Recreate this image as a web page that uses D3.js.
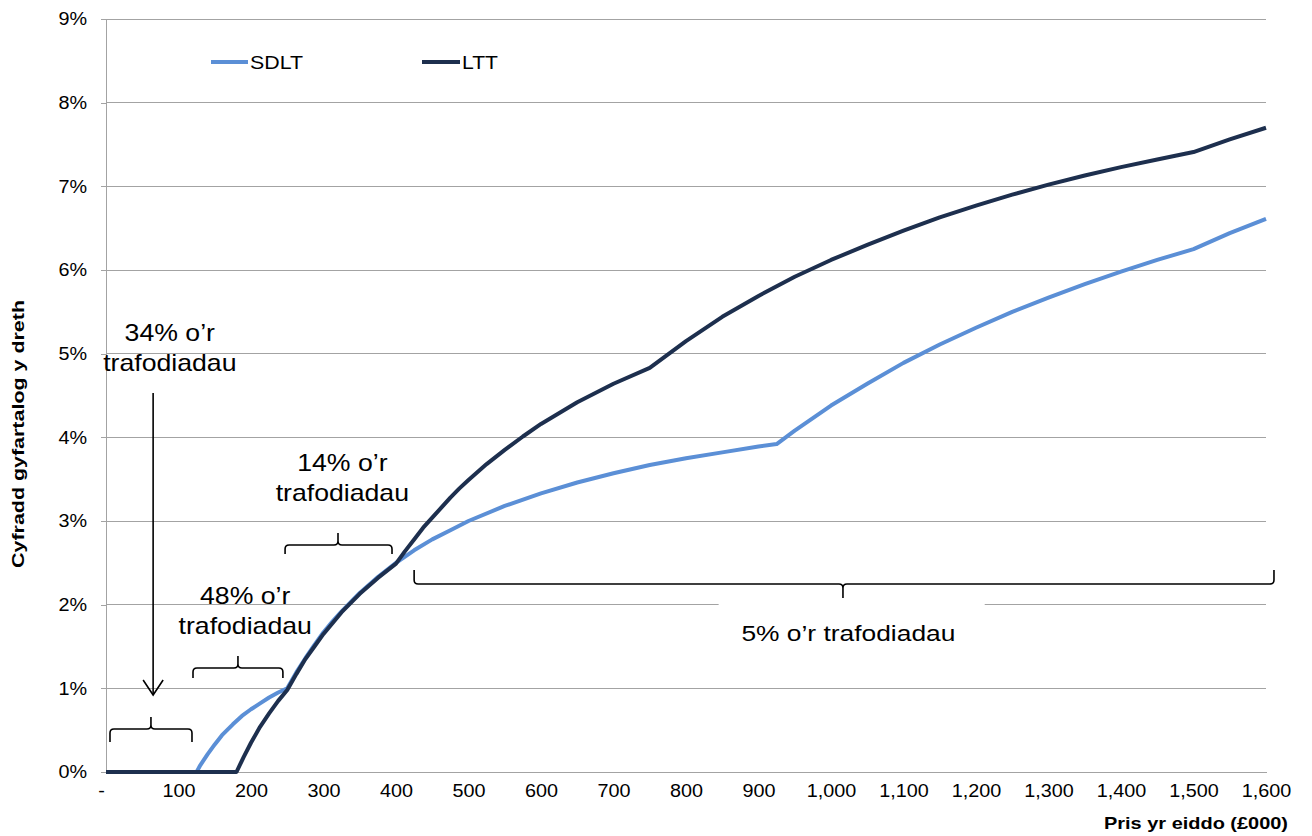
<!DOCTYPE html>
<html><head><meta charset="utf-8">
<script src="https://cdn.jsdelivr.net/npm/d3@7"></script>
<style>
html,body{margin:0;padding:0;background:#fff;}
svg{display:block;font-family:"Liberation Sans",Arial,sans-serif;}
</style></head>
<body><svg id="c" width="1312" height="836"></svg>
<script>
// ---- data ----
const seriesNames = ["SDLT", "LTT"];
const sdltPrice = [0,25,50,75,100,125,130,140,150,160,175,187.5,200,212.5,225,237.5,250,262.5,275,287.5,300,312.5,325,350,375,400,425,450,475,500,550,600,650,700,750,800,850,900,925,950,1000,1050,1100,1150,1200,1250,1300,1350,1400,1450,1500,1550,1600];
const sdltRate  = [0,0,0,0,0,0,0.08,0.21,0.33,0.44,0.57,0.67,0.75,0.82,0.89,0.95,1.00,1.19,1.36,1.52,1.67,1.80,1.92,2.14,2.33,2.50,2.65,2.78,2.89,3.00,3.18,3.33,3.46,3.57,3.67,3.75,3.82,3.89,3.92,4.08,4.38,4.64,4.89,5.11,5.31,5.50,5.67,5.83,5.98,6.12,6.25,6.44,6.61];
const lttPrice  = [0,25,50,75,100,125,150,175,180,185,190,200,212.5,225,237.5,250,262.5,275,287.5,300,325,350,375,400,412.5,425,437.5,450,462.5,475,487.5,500,525,550,575,600,650,700,750,800,850,900,950,1000,1050,1100,1150,1200,1250,1300,1350,1400,1450,1500,1550,1600];
const lttRate   = [0,0,0,0,0,0,0,0,0,0.09,0.18,0.35,0.54,0.70,0.85,0.98,1.17,1.35,1.50,1.65,1.91,2.13,2.32,2.49,2.64,2.78,2.92,3.04,3.16,3.28,3.39,3.49,3.68,3.85,4.01,4.16,4.42,4.64,4.83,5.15,5.44,5.69,5.92,6.12,6.30,6.47,6.63,6.77,6.90,7.02,7.13,7.23,7.32,7.41,7.56,7.70];
const xTicks = [0,100,200,300,400,500,600,700,800,900,1000,1100,1200,1300,1400,1500,1600];
const xTickLabels = ["-","100","200","300","400","500","600","700","800","900","1,000","1,100","1,200","1,300","1,400","1,500","1,600"];
const yTicks = [0,1,2,3,4,5,6,7,8,9];
const yTickLabels = ["0%","1%","2%","3%","4%","5%","6%","7%","8%","9%"];
const xTitle = "Pris yr eiddo (£000)";
const yTitle = "Cyfradd gyfartalog y dreth";
const shareLabels = [["34% o’r","trafodiadau"],["48% o’r","trafodiadau"],["14% o’r","trafodiadau"],["5% o’r trafodiadau"]];

// ---- layout ----
const svg = d3.select("#c");
const x = d3.scaleLinear().domain([0,1600]).range([106,1266]);
const y = d3.scaleLinear().domain([0,9]).range([772,19]);
const colors = {SDLT:"#5b8fd6", LTT:"#1d2f4e"};
const grid = "#a3a3a3";

function stretch(sel, k){ sel.each(function(){ const w=this.getComputedTextLength(); this.setAttribute("textLength", w*k); this.setAttribute("lengthAdjust","spacingAndGlyphs"); }); return sel; }

// gridlines
svg.append("g").selectAll("line").data(yTicks.slice(1)).join("line")
  .attr("x1",x(0)).attr("x2",x(1600)).attr("y1",d=>y(d)).attr("y2",d=>y(d))
  .attr("stroke",grid).attr("stroke-width",1).attr("shape-rendering","crispEdges");

// y axis
const yAxis = svg.append("g").attr("transform",`translate(${x(0)},0)`)
  .call(d3.axisLeft(y).tickValues(yTicks).tickFormat((d,i)=>yTickLabels[i]).tickSize(5).tickPadding(14));
yAxis.select(".domain").attr("stroke",grid).attr("shape-rendering","crispEdges");
yAxis.selectAll(".tick line").attr("stroke",grid).attr("shape-rendering","crispEdges");
yAxis.selectAll(".tick text").attr("font-size",18).attr("fill","#000").attr("font-family","Liberation Sans, Arial, sans-serif");
stretch(yAxis.selectAll(".tick text"),1.1);

// x axis
const xAxis = svg.append("g").attr("transform",`translate(0,${y(0)})`)
  .call(d3.axisBottom(x).tickValues(xTicks).tickFormat((d,i)=>xTickLabels[i]).tickSize(0).tickPadding(12));
xAxis.select(".domain").attr("stroke",grid).attr("shape-rendering","crispEdges");
xAxis.selectAll(".tick text").attr("font-size",18).attr("fill","#000").attr("font-family","Liberation Sans, Arial, sans-serif");
xAxis.selectAll(".tick text").filter((d,i)=>i===0).attr("dx",-5);
stretch(xAxis.selectAll(".tick text"),1.1);

// white box behind the 5% label
svg.append("rect").attr("x",x(845)).attr("y",y(2.05)).attr("width",x(1212)-x(845)).attr("height",y(1.35)-y(2.05)).attr("fill","#fff");

// series
const line = d3.line().x(d=>x(d[0])).y(d=>y(d[1]));
const series = [
  {name:"SDLT", pts: sdltPrice.map((p,i)=>[p,sdltRate[i]])},
  {name:"LTT",  pts: lttPrice.map((p,i)=>[p,lttRate[i]])}
];
svg.append("g").selectAll("path").data(series).join("path")
  .attr("d",d=>line(d.pts)).attr("fill","none")
  .attr("stroke",d=>colors[d.name]).attr("stroke-width",4).attr("stroke-linejoin","round").attr("stroke-linecap","butt");

// legend
const legend = [{name:"SDLT",x0:211,x1:248,tx:250,tw:53},{name:"LTT",x0:422,x1:460,tx:462,tw:36}];
legend.forEach(l=>{
  svg.append("line").attr("x1",l.x0).attr("x2",l.x1).attr("y1",62).attr("y2",62).attr("stroke",colors[l.name]).attr("stroke-width",4);
  svg.append("text").attr("x",l.tx).attr("y",69).attr("font-size",19).attr("fill","#000").text(l.name)
    .attr("textLength",l.tw).attr("lengthAdjust","spacingAndGlyphs");
});

// axis titles
svg.append("text").attr("x",1288).attr("y",829).attr("text-anchor","end").attr("font-size",17).attr("font-weight","bold").text(xTitle)
  .attr("textLength",184).attr("lengthAdjust","spacingAndGlyphs");
svg.append("text").attr("transform","translate(24,434) rotate(-90)").attr("text-anchor","middle").attr("font-size",16).attr("font-weight","bold").text(yTitle)
  .attr("textLength",268).attr("lengthAdjust","spacingAndGlyphs");

// brackets (in data units)
function bracket(x0,x1,xm,hy,endLen,tipLen){
  const X0=x(x0),X1=x(x1),XM=x(xm),H=y(hy);
  const r=4, s=Math.sign(endLen), t=Math.sign(tipLen);
  const p=d3.path();
  p.moveTo(X0,H+endLen);
  p.lineTo(X0,H+s*r); p.quadraticCurveTo(X0,H,X0+r,H);
  p.lineTo(XM-r,H); p.quadraticCurveTo(XM,H,XM,H+t*r); p.lineTo(XM,H+tipLen);
  p.moveTo(XM,H+t*r); p.quadraticCurveTo(XM,H,XM+r,H);
  p.lineTo(X1-r,H); p.quadraticCurveTo(X1,H,X1,H+s*r); p.lineTo(X1,H+endLen);
  svg.append("path").attr("d",p.toString()).attr("fill","none").attr("stroke","#000").attr("stroke-width",1.6);
}
bracket(5.5,118.6,62,0.514,13,-12);
bracket(120,244,182,1.243,10,-12);
bracket(247,394.5,320,2.713,9,-12);
bracket(425,1611,1016.5,2.247,-14,14);

// arrow
svg.append("line").attr("x1",x(65)).attr("x2",x(65)).attr("y1",y(4.53)).attr("y2",y(0.92)).attr("stroke","#000").attr("stroke-width",1.6);
svg.append("path").attr("d",`M${x(65)-10},${y(0.92)-15}L${x(65)},${y(0.92)}L${x(65)+10},${y(0.92)-15}`).attr("fill","none").attr("stroke","#000").attr("stroke-width",1.6);

// share labels
const labelPos = [[88,5.15],[192,2.002],[326,3.6]];
labelPos.forEach((p,i)=>{
  shareLabels[i].forEach((s,j)=>{
    const t = svg.append("text").attr("x",x(p[0])).attr("y",y(p[1])+j*30).attr("text-anchor","middle").attr("font-size",24).attr("fill","#000").text(s);
    stretch(t,1.11);
  });
});
svg.append("text").attr("x",x(1024)).attr("y",641).attr("text-anchor","middle").attr("font-size",22).attr("fill","#000")
  .attr("font-family","Liberation Sans Narrow, Liberation Sans, Arial, sans-serif").text(shareLabels[3][0])
  .attr("textLength",214).attr("lengthAdjust","spacingAndGlyphs");
</script></body></html>
